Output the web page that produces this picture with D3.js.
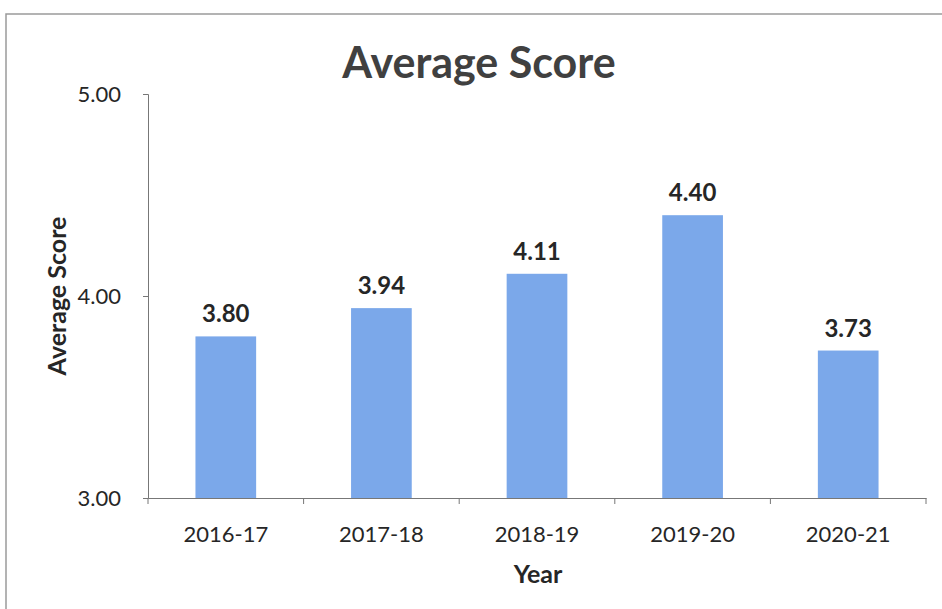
<!DOCTYPE html>
<html>
<head>
<meta charset="utf-8">
<script src="https://cdn.jsdelivr.net/npm/d3@7"></script>
<style>
  body { margin: 0; background: #fff; }
  svg text { font-family: Lato, "Open Sans", sans-serif; fill: #262626; }
</style>
</head>
<body>
<div id="container"></div>
<script>
/* DATA */
const years = ["2016-17", "2017-18", "2018-19", "2019-20", "2020-21"];
const scores = [3.80, 3.94, 4.11, 4.40, 3.73];
const yTicks = [3, 4, 5];

/* LAYOUT */
const W = 942, H = 609;
const margin = { top: 94, right: 16, bottom: 111, left: 148 };
const width = W - margin.left - margin.right;
const height = H - margin.top - margin.bottom;

const svg = d3.select("#container")
  .append("svg")
  .attr("width", W)
  .attr("height", H);

// frame of the scanned chart
svg.append("path")
  .attr("d", `M6,${H} L6,14 L${W},14`)
  .attr("fill", "none")
  .attr("stroke", "#9a9a9a")
  .attr("stroke-width", 1.5);

const g = svg.append("g")
  .attr("transform", `translate(${margin.left},${margin.top})`);

/* SCALES */
const xScale = d3.scaleBand()
  .domain(years)
  .range([0, width])
  .paddingInner(0.61)
  .paddingOuter(0.305);

const yScale = d3.scaleLinear()
  .domain([3, 5])
  .range([height, 0]);

/* BARS */
g.selectAll("rect.bar")
  .data(scores)
  .join("rect")
  .attr("class", "bar")
  .attr("x", (d, i) => xScale(years[i]))
  .attr("y", d => yScale(d))
  .attr("width", xScale.bandwidth())
  .attr("height", d => height - yScale(d))
  .attr("fill", "#7ba8ea");

// value labels
g.selectAll("text.val")
  .data(scores)
  .join("text")
  .attr("class", "val")
  .attr("x", (d, i) => xScale(years[i]) + xScale.bandwidth() / 2)
  .attr("y", d => yScale(d) - 14)
  .attr("text-anchor", "middle")
  .style("font-size", "24px")
  .style("font-weight", "bold")
  .text(d => d.toFixed(2));

/* AXES */
const yAxis = g.append("g")
  .call(d3.axisLeft(yScale).tickValues(yTicks).tickFormat(d3.format(".2f")).tickSize(5).tickPadding(22));
yAxis.selectAll("path, line").attr("stroke", "#777");
yAxis.selectAll("text").style("font-size", "22px").attr("fill", "#262626");

const xAxis = g.append("g")
  .attr("transform", `translate(0,${height})`)
  .call(d3.axisBottom(xScale).tickSize(0).tickPadding(28));
xAxis.select("path").attr("stroke", "#777");
xAxis.selectAll("text").style("font-size", "22px").attr("fill", "#262626");

// category boundary ticks (Excel style)
const step = xScale.step();
g.append("g")
  .selectAll("line")
  .data(d3.range(years.length + 1))
  .join("line")
  .attr("x1", i => i * step)
  .attr("x2", i => i * step)
  .attr("y1", height)
  .attr("y2", height + 6)
  .attr("stroke", "#777");

/* TITLES */
svg.append("text")
  .attr("x", 479)
  .attr("y", 78)
  .attr("text-anchor", "middle")
  .style("font-size", "43px")
  .style("font-weight", "bold")
  .style("fill", "#404040")
  .text("Average Score");

svg.append("text")
  .attr("transform", `translate(66,${margin.top + height / 2}) rotate(-90)`)
  .attr("text-anchor", "middle")
  .style("font-size", "25px")
  .style("font-weight", "bold")
  .text("Average Score");

svg.append("text")
  .attr("x", 538)
  .attr("y", 583)
  .attr("text-anchor", "middle")
  .style("font-size", "25px")
  .style("font-weight", "bold")
  .text("Year");
</script>
</body>
</html>
